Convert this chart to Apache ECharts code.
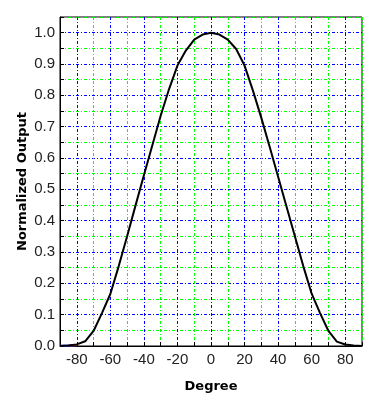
<!DOCTYPE html>
<html>
<head>
<meta charset="utf-8">
<script src="https://cdn.jsdelivr.net/npm/echarts@6/dist/echarts.min.js"></script>
<style>
html,body{margin:0;padding:0;background:#fff;}
#c{width:377px;height:401px;}
</style>
</head>
<body>
<div id="c"></div>
<script>
var degrees = [-90,-85,-80,-75,-70,-65,-60,-55,-50,-45,-40,-35,-30,-25,-20,-15,-10,-5,0,5,10,15,20,25,30,35,40,45,50,55,60,65,70,75,80,85,90];
var output  = [0,0.002,0.005,0.015,0.048,0.105,0.166,0.255,0.35,0.448,0.545,0.64,0.735,0.82,0.895,0.943,0.978,0.994,1.0,0.994,0.978,0.948,0.895,0.815,0.728,0.635,0.54,0.445,0.35,0.255,0.167,0.105,0.048,0.014,0.005,0.002,0];
var blueDeg = [-90,-80];
var blueVal = [0.001,0.002];
var redDeg = [-84,-80];
var redVal = [0.002,0.003];

function pairs(xs, ys){ return xs.map(function(x,i){return [x, ys[i]];}); }

var chart = echarts.init(document.getElementById('c'), null, {renderer:'canvas'});
var dash = [3,2,1,2];
var labelFont = "'Liberation Sans', Arial, sans-serif";
chart.setOption({
  animation:false,
  backgroundColor:'#fff',
  textStyle:{fontFamily:labelFont,fontSize:15},
  grid:{left:60,right:15,top:17,bottom:55,show:true,borderColor:'#000',borderWidth:1,backgroundColor:'transparent'},
  xAxis:{
    type:'value',min:-90,max:90,interval:10,
    name:'Degree',nameLocation:'middle',nameGap:34,
    nameTextStyle:{fontFamily:'DejaVu Sans',fontWeight:'bold',fontSize:13,color:'#000'},
    axisLine:{show:true,onZero:false,lineStyle:{color:'#000',width:1}},
    axisTick:{show:true,inside:true,length:4,lineStyle:{color:'#000'}},
    axisLabel:{show:true,fontFamily:labelFont,fontSize:15,color:'#222',margin:6,
      formatter:function(v){ var r=Math.round(v); return (r%20===0 && Math.abs(r)<90)? String(r):''; }},
    splitLine:{show:true,lineStyle:{color:['#00ff00','#0000ff'],width:1,type:dash}}
  },
  yAxis:{
    type:'value',min:0,max:1.05,interval:0.05,
    name:'Normalized Output',nameLocation:'middle',nameGap:31,nameRotate:90,nameMoveOverlap:false,
    nameTextStyle:{fontFamily:'DejaVu Sans',fontWeight:'bold',fontSize:13,color:'#000'},
    axisLine:{show:true,onZero:false,lineStyle:{color:'#000',width:1}},
    axisTick:{show:true,inside:true,length:4,lineStyle:{color:'#000'}},
    axisLabel:{show:true,fontFamily:labelFont,fontSize:15,color:'#222',margin:5,
      formatter:function(v){ var r=Math.round(v*100); return (r%10===0)? (r/100).toFixed(1):''; }},
    splitLine:{show:true,lineStyle:{color:['#0000ff','#00ff00'],width:1,type:dash}}
  },
  series:[
    {type:'line',data:pairs(blueDeg,blueVal),showSymbol:false,lineStyle:{color:'#3050ff',width:2},z:3},
    {type:'line',data:pairs(redDeg,redVal),showSymbol:false,lineStyle:{color:'#ff2020',width:2},z:4},
    {type:'line',data:pairs(degrees,output),showSymbol:false,smooth:false,lineStyle:{color:'#000',width:2},z:5}
  ]
});
</script>
</body>
</html>
